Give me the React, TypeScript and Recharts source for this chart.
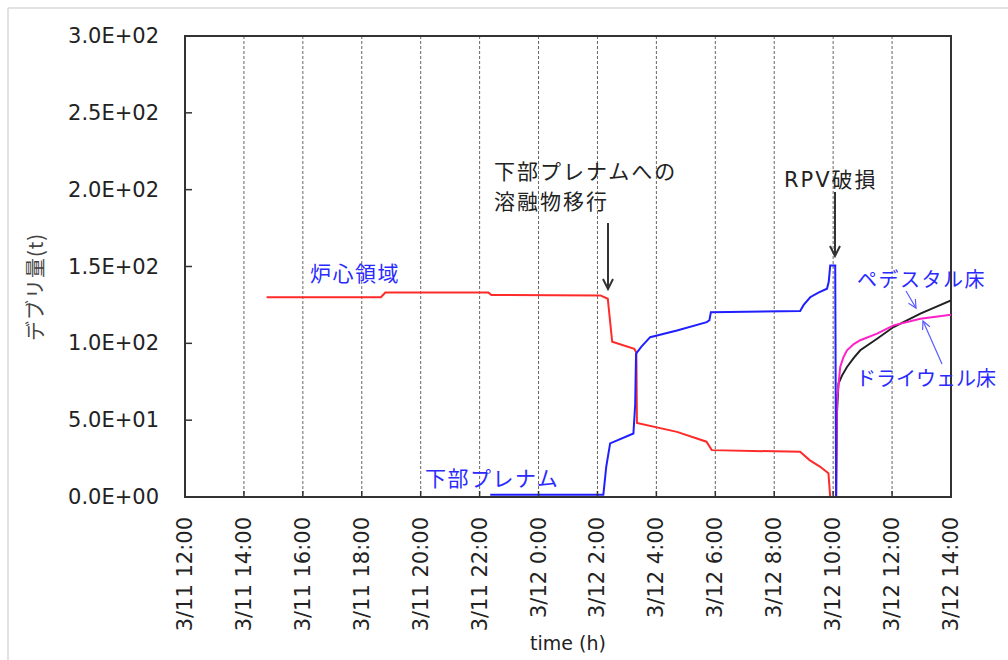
import React from 'react';
import { LineChart, Line, XAxis, YAxis, CartesianGrid, ReferenceArea } from 'recharts';

// hours counted from 3/11 12:00
const xTicks = [0, 2, 4, 6, 8, 10, 12, 14, 16, 18, 20, 22, 24, 26];
const xTickLabels = [
  '3/11 12:00', '3/11 14:00', '3/11 16:00', '3/11 18:00', '3/11 20:00', '3/11 22:00',
  '3/12 0:00', '3/12 2:00', '3/12 4:00', '3/12 6:00', '3/12 8:00', '3/12 10:00',
  '3/12 12:00', '3/12 14:00',
];
const yTicks = [0, 50, 100, 150, 200, 250, 300];
const yTickLabels = ['0.0E+00', '5.0E+01', '1.0E+02', '1.5E+02', '2.0E+02', '2.5E+02', '3.0E+02'];

// 炉心領域
const coreHours = [2.77, 6.65, 6.8, 10.3, 10.4, 14.1, 14.35, 14.5, 15.25, 15.32, 15.34, 16.7, 17.7, 17.88, 20.88, 21.2, 21.55, 21.84, 21.9, 26];
const coreMass = [130, 130, 133, 133, 131.5, 131.2, 129, 101, 96.5, 94, 48.2, 42.4, 36, 30.5, 29.4, 24, 19.8, 15.5, 0, 0];

// 下部プレナム
const plenumHours = [10.36, 14.2, 14.3, 14.43, 15.22, 15.28, 15.31, 15.5, 15.79, 16.7, 17.71, 17.8, 17.85, 20.88, 21.0, 21.22, 21.5, 21.79, 21.85, 21.9, 22.07, 22.1, 26];
const plenumMass = [1.5, 1.5, 20, 34.9, 41.3, 60, 93.3, 98, 104, 108.4, 113.8, 115, 120.3, 121, 125, 130, 133, 135.5, 140, 150.6, 150.6, 0, 0];

// ペデスタル床
const pedestalHours = [2.77, 22.1, 22.13, 22.18, 22.3, 22.47, 22.7, 22.92, 23.49, 24.05, 24.96, 26];
const pedestalMass = [0, 0, 55, 73.8, 79, 84.6, 90.5, 95.5, 103, 110.6, 119.3, 128];

// ドライウェル床
const drywellHours = [2.77, 22.1, 22.13, 22.24, 22.35, 22.47, 22.7, 22.92, 23.49, 24.05, 24.96, 26];
const drywellMass = [0, 0, 63, 84.6, 91, 95.5, 99.5, 102, 106.3, 111.7, 116, 118.6];

const toPoints = (t: number[], v: number[]) => t.map((h, i) => ({ t: h, v: v[i] }));

const coreData = toPoints(coreHours, coreMass);
const plenumData = toPoints(plenumHours, plenumMass);
const pedestalData = toPoints(pedestalHours, pedestalMass);
const drywellData = toPoints(drywellHours, drywellMass);

const LATIN = "'DejaVu Sans', 'Noto Sans CJK JP', sans-serif";
const JP = "'Noto Sans CJK JP', 'DejaVu Sans', sans-serif";
const AXIS = '#333';
const NOTE_BLUE = '#2a2aff';

function XTick(props: any) {
  const { x, y, payload } = props;
  const label = xTickLabels[xTicks.indexOf(payload.value)] ?? '';
  return (
    <g>
      <line x1={x} x2={x} y1={y} y2={y - 6} stroke={AXIS} strokeWidth={1.5} />
      <text
        transform={`translate(${x},${y + 20}) rotate(-90)`}
        textAnchor="end"
        dominantBaseline="central"
        fontSize={21}
        fontFamily={LATIN}
        fill="#222"
      >
        {label}
      </text>
    </g>
  );
}

function YTick(props: any) {
  const { x, y, payload } = props;
  const label = yTickLabels[yTicks.indexOf(payload.value)] ?? '';
  return (
    <g>
      <line x1={x} x2={x + 7} y1={y} y2={y} stroke={AXIS} strokeWidth={1.5} />
      <text x={x - 26} y={y} textAnchor="end" dominantBaseline="central" fontSize={21} fontFamily={LATIN} fill="#222">
        {label}
      </text>
    </g>
  );
}

function Arrow({ x1, y1, x2, y2, color, width, head }: { x1: number; y1: number; x2: number; y2: number; color: string; width: number; head: number }) {
  const len = Math.hypot(x2 - x1, y2 - y1);
  const ux = (x2 - x1) / len;
  const uy = (y2 - y1) / len;
  const bx = x2 - ux * head;
  const by = y2 - uy * head;
  const px = -uy * head * 0.5;
  const py = ux * head * 0.5;
  return (
    <g stroke={color} strokeWidth={width} fill="none">
      <line x1={x1} y1={y1} x2={x2} y2={y2} />
      <polyline points={`${bx + px},${by + py} ${x2},${y2} ${bx - px},${by - py}`} />
    </g>
  );
}

export default function App() {
  return (
    <div style={{ position: 'absolute', left: 0, top: 0, width: 1008, height: 660, background: '#fff' }}>
      <LineChart width={1008} height={660} margin={{ top: 36, right: 57, bottom: 0, left: 0 }}>
        <CartesianGrid horizontal={false} strokeDasharray="3 2" stroke="#666" />
        <XAxis
          dataKey="t"
          type="number"
          domain={[0, 26]}
          ticks={xTicks}
          allowDataOverflow
          height={163}
          tickSize={0}
          tickMargin={0}
          tickLine={false}
          axisLine={{ stroke: AXIS, strokeWidth: 2 }}
          tick={<XTick />}
          interval={0}
        />
        <YAxis
          type="number"
          domain={[0, 300]}
          ticks={yTicks}
          width={185}
          tickSize={0}
          tickMargin={0}
          tickLine={false}
          axisLine={{ stroke: AXIS, strokeWidth: 2 }}
          tick={<YTick />}
          interval={0}
        />
        <ReferenceArea x1={0} x2={26} y1={0} y2={300} fill="none" stroke={AXIS} strokeWidth={2} ifOverflow="visible" />
        <Line data={pedestalData} dataKey="v" type="linear" stroke="#222" strokeWidth={2} dot={false} isAnimationActive={false} />
        <Line data={coreData} dataKey="v" type="linear" stroke="#ff2a2a" strokeWidth={2} dot={false} isAnimationActive={false} />
        <Line data={drywellData} dataKey="v" type="linear" stroke="#ff20c8" strokeWidth={2} dot={false} isAnimationActive={false} />
        <Line data={plenumData} dataKey="v" type="linear" stroke="#2020ff" strokeWidth={2} dot={false} isAnimationActive={false} />
      </LineChart>

      <svg width={1008} height={660} style={{ position: 'absolute', left: 0, top: 0, pointerEvents: 'none' }}>
        <line x1={8} y1={8} x2={8} y2={660} stroke="#d8d8d8" strokeWidth={1.5} />
        <line x1={8} y1={8} x2={1008} y2={8} stroke="#d8d8d8" strokeWidth={1.5} />

        <text transform="translate(34,287) rotate(-90)" textAnchor="middle" dominantBaseline="central" fontSize={20} fontFamily={JP} fill="#444" letterSpacing={1}>
          デブリ量(t)
        </text>
        <text x={568} y={643} textAnchor="middle" dominantBaseline="central" fontSize={19} fontFamily={LATIN} fill="#222">
          time (h)
        </text>

        <g fontFamily={JP} fontSize={21} fill={NOTE_BLUE} letterSpacing={1.5} dominantBaseline="central">
          <text x={310} y={272}>炉心領域</text>
          <text x={425} y={477}>下部プレナム</text>
        </g>
        <g fontFamily={JP} fontSize={20} fill={NOTE_BLUE} dominantBaseline="central">
          <text x={857} y={278} letterSpacing={1.5}>ペデスタル床</text>
          <text x={856} y={377} letterSpacing={0}>ドライウェル床</text>
        </g>
        <g fontFamily={JP} fontSize={21} fill="#222" letterSpacing={2} dominantBaseline="central">
          <text x={494} y={170}>下部プレナムへの</text>
          <text x={494} y={200}>溶融物移行</text>
          <text x={784} y={180} fontFamily={LATIN}>RPV破損</text>
        </g>

        <Arrow x1={608} y1={223} x2={608} y2={289} color="#333" width={2} head={10} />
        <Arrow x1={835} y1={192} x2={835} y2={256} color="#333" width={2} head={10} />
        <Arrow x1={906} y1={291} x2={916} y2={308} color="#5a5aff" width={1.2} head={8} />
        <Arrow x1={942} y1={364} x2={923} y2={321} color="#5a5aff" width={1.2} head={8} />
      </svg>
    </div>
  );
}
